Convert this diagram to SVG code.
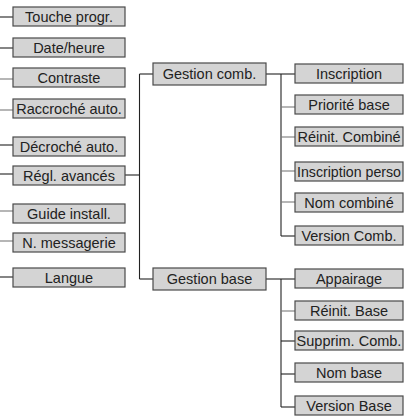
<svg xmlns="http://www.w3.org/2000/svg" width="406" height="419" viewBox="0 0 406 419">
<style>
.b rect{fill:#d4d4d4;stroke:#4a4a4a;stroke-width:1.2}
.b text{font-family:"Liberation Sans",Arial,sans-serif;font-size:14.5px;fill:#222;text-anchor:middle}
.c line{stroke:#222;stroke-width:1.1}
.c line.g{stroke:#7a7a7a}
</style>
<rect width="406" height="419" fill="#fff"/>
<g id="connectors" class="c">
<line x1="0" y1="17" x2="13" y2="17"/>
<line x1="0" y1="48" x2="13" y2="48"/>
<line class="g" x1="0" y1="79" x2="13" y2="79"/>
<line class="g" x1="0" y1="110" x2="13" y2="110"/>
<line x1="0" y1="145" x2="13" y2="145"/>
<line x1="0" y1="174" x2="13" y2="174"/>
<line class="g" x1="0" y1="211" x2="13" y2="211"/>
<line class="g" x1="0" y1="241" x2="13" y2="241"/>
<line x1="0" y1="277" x2="13" y2="277"/>
<line x1="125" y1="175" x2="139.5" y2="175"/>
<line x1="139.5" y1="74" x2="139.5" y2="279"/>
<line x1="139.5" y1="74" x2="153" y2="74"/>
<line x1="139.5" y1="279" x2="153" y2="279"/>
<line x1="266" y1="74" x2="295" y2="74"/>
<line x1="281" y1="74" x2="281" y2="236"/>
<line class="g" x1="281" y1="107" x2="295" y2="107"/>
<line class="g" x1="281" y1="137" x2="295" y2="137"/>
<line class="g" x1="281" y1="171" x2="295" y2="171"/>
<line class="g" x1="281" y1="202" x2="295" y2="202"/>
<line x1="281" y1="236" x2="295" y2="236"/>
<line x1="266" y1="279" x2="295" y2="279"/>
<line x1="281" y1="279" x2="281" y2="407"/>
<line class="g" x1="281" y1="311" x2="295" y2="311"/>
<line x1="281" y1="341" x2="295" y2="341"/>
<line x1="281" y1="374" x2="295" y2="374"/>
<line x1="281" y1="407" x2="295" y2="407"/>
</g>
<g id="touche" class="b"><rect x="13" y="7" width="112" height="19"/><text x="69" y="21.8">Touche progr.</text></g>
<g id="date" class="b"><rect x="13" y="38" width="112" height="19"/><text x="69" y="52.8">Date/heure</text></g>
<g id="contraste" class="b"><rect x="13" y="68" width="112" height="19"/><text x="69" y="82.8">Contraste</text></g>
<g id="raccroche" class="b"><rect x="13" y="99" width="112" height="19"/><text x="69" y="113.8">Raccroché auto.</text></g>
<g id="decroche" class="b"><rect x="13" y="137" width="112" height="19"/><text x="69" y="151.8">Décroché auto.</text></g>
<g id="regl" class="b"><rect x="13" y="166" width="112" height="19"/><text x="69" y="180.8">Régl. avancés</text></g>
<g id="guide" class="b"><rect x="13" y="204" width="112" height="19"/><text x="69" y="218.8">Guide install.</text></g>
<g id="messagerie" class="b"><rect x="13" y="233" width="112" height="19"/><text x="69" y="247.8">N. messagerie</text></g>
<g id="langue" class="b"><rect x="13" y="268" width="112" height="19"/><text x="69" y="282.8">Langue</text></g>
<g id="gestcomb" class="b"><rect x="153" y="63" width="113" height="22"/><text x="209.5" y="79.2">Gestion comb.</text></g>
<g id="gestbase" class="b"><rect x="153" y="268" width="113" height="22"/><text x="209.5" y="284.2">Gestion base</text></g>
<g id="inscription" class="b"><rect x="295" y="64" width="108" height="19"/><text x="349" y="78.8">Inscription</text></g>
<g id="priorite" class="b"><rect x="295" y="95" width="108" height="19"/><text x="349" y="109.8">Priorité base</text></g>
<g id="reinitcomb" class="b"><rect x="295" y="127" width="108" height="19"/><text x="349" y="141.8">Réinit. Combiné</text></g>
<g id="inscperso" class="b"><rect x="295" y="162" width="108" height="19"/><text x="349" y="176.8" textLength="104" lengthAdjust="spacingAndGlyphs">Inscription perso</text></g>
<g id="nomcomb" class="b"><rect x="295" y="193" width="108" height="19"/><text x="349" y="207.8">Nom combiné</text></g>
<g id="versioncomb" class="b"><rect x="295" y="226" width="108" height="19"/><text x="349" y="240.8">Version Comb.</text></g>
<g id="appairage" class="b"><rect x="295" y="269" width="108" height="19"/><text x="349" y="283.8">Appairage</text></g>
<g id="reinitbase" class="b"><rect x="295" y="301" width="108" height="19"/><text x="349" y="315.8">Réinit. Base</text></g>
<g id="supprim" class="b"><rect x="295" y="331" width="108" height="19"/><text x="349" y="345.8">Supprim. Comb.</text></g>
<g id="nombase" class="b"><rect x="295" y="363" width="108" height="19"/><text x="349" y="377.8">Nom base</text></g>
<g id="versionbase" class="b"><rect x="295" y="396" width="108" height="19"/><text x="349" y="410.8">Version Base</text></g>
</svg>
